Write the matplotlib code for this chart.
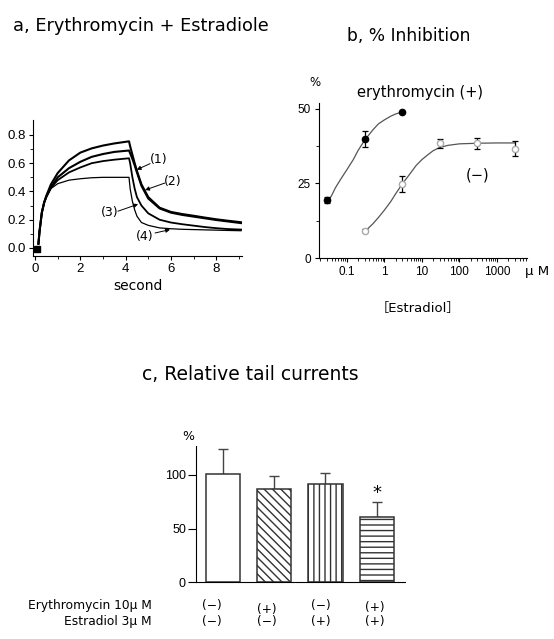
import matplotlib
matplotlib.use('Agg')
import matplotlib.pyplot as plt
from matplotlib.ticker import FixedLocator, FixedFormatter, NullFormatter, LogLocator

plt.rcParams['font.family'] = ['Liberation Sans', 'DejaVu Sans']
plt.rcParams['hatch.linewidth'] = 1.0
TXT = ['DejaVu Sans', 'Noto Sans CJK JP']

W, H = 554, 639

# ---------------- Panel a data: current traces ----------------
rise_t = [0.15, 0.20, 0.30, 0.40, 0.50, 0.70, 1.0, 1.5, 2.0, 2.5, 3.0, 3.5, 4.15]
rise_1 = [0.03, 0.12, 0.25, 0.32, 0.37, 0.45, 0.53, 0.62, 0.675, 0.705, 0.725, 0.74, 0.755]
rise_2 = [0.03, 0.12, 0.25, 0.32, 0.365, 0.43, 0.50, 0.565, 0.61, 0.645, 0.665, 0.68, 0.69]
rise_3 = [0.03, 0.12, 0.25, 0.32, 0.36, 0.425, 0.48, 0.535, 0.57, 0.60, 0.615, 0.625, 0.635]
rise_4 = [0.03, 0.12, 0.25, 0.32, 0.36, 0.42, 0.455, 0.48, 0.49, 0.497, 0.50, 0.50, 0.50]

tail_t = [4.15, 4.2, 4.3, 4.4, 4.5, 4.7, 5.0, 5.5, 6.0, 6.5, 7.0, 7.5, 8.0, 8.5, 9.1]
tail_1 = [0.755, 0.72, 0.66, 0.60, 0.545, 0.45, 0.36, 0.285, 0.255, 0.24, 0.228, 0.215, 0.203, 0.193, 0.182]
tail_2 = [0.69, 0.67, 0.63, 0.585, 0.535, 0.44, 0.35, 0.28, 0.25, 0.234, 0.222, 0.21, 0.198, 0.188, 0.176]
tail_3 = [0.635, 0.60, 0.50, 0.42, 0.36, 0.30, 0.245, 0.20, 0.18, 0.168, 0.158, 0.148, 0.14, 0.134, 0.13]
tail_4 = [0.50, 0.42, 0.33, 0.27, 0.225, 0.18, 0.16, 0.142, 0.136, 0.132, 0.13, 0.128, 0.126, 0.124, 0.122]
start_t, start_v = 0.08, -0.01

trace_labels = ['(1)', '(2)', '(3)', '(4)']

# ---------------- Panel b data: % inhibition ----------------
conc_plus = [0.03, 0.3, 3]
inh_plus = [19.5, 40.0, 49.0]
err_plus = [1.0, 2.7, 0.0]
conc_minus = [0.3, 3, 30, 300, 3000]
inh_minus = [9.2, 24.8, 38.5, 38.5, 36.6]
err_minus = [0.6, 2.7, 1.5, 1.9, 2.5]
fit_plus_x = [0.03, 0.04, 0.05, 0.07, 0.1, 0.15, 0.2, 0.3, 0.5, 0.7, 1, 1.5, 2, 3]
fit_plus_y = [18.5, 21.0, 23.5, 26.5, 29.5, 33.0, 36.0, 39.5, 43.0, 45.0, 46.3, 47.6, 48.3, 49.0]
fit_minus_x = [0.3, 0.5, 0.7, 1, 1.5, 2, 3, 5, 7, 10, 15, 20, 30, 50, 100, 300, 1000, 3000]
fit_minus_y = [8.8, 11.5, 13.6, 16.0, 19.0, 21.5, 24.8, 28.5, 31.0, 33.0, 34.8, 36.0, 37.1, 37.8, 38.3, 38.5, 38.6, 38.6]
b_xticks = [0.1, 1, 10, 100, 1000]
b_xticklabels = ['0.1', '1', '10', '100', '1000']

# ---------------- Panel c data: relative tail currents ----------------
groups = ['g1', 'g2', 'g3', 'g4']
rel_tail = [101, 87, 92, 61]
rel_err = [23, 12.5, 9.5, 13.5]
hatches = ['', '\\\\\\\\', '|||', '---']
erythro = ['(−)', '(+)', '(−)', '(+)']
estradiol = ['(−)', '(−)', '(+)', '(+)']

fig = plt.figure(figsize=(W / 100, H / 100), dpi=100)


def box(l, t, r, b):
    return [l / W, 1 - b / H, (r - l) / W, (b - t) / H]


def ftext(x, y, s, **kw):
    kw.setdefault('family', TXT)
    fig.text(x / W, 1 - y / H, s, **kw)


# ======== Panel a ========
ax = fig.add_axes(box(33, 120, 242, 256))
for r, tl, lw in [(rise_1, tail_1, 1.5), (rise_2, tail_2, 1.5), (rise_3, tail_3, 1.3), (rise_4, tail_4, 0.9)]:
    ax.plot(rise_t + tail_t, r + tl, color='black', lw=lw, solid_joinstyle='round')
ax.plot([start_t], [start_v], marker='s', color='black', ms=4)
ax.set_xlim(-0.09, 9.14)
ax.set_ylim(-0.057, 0.906)
for s in ['top', 'right']:
    ax.spines[s].set_visible(False)
ax.set_xticks([0, 2, 4, 6, 8])
ax.set_xticks([1, 3, 5, 7, 9], minor=True)
ax.set_yticks([0, 0.2, 0.4, 0.6, 0.8])
ax.set_yticklabels(['0.0', '0.2', '0.4', '0.6', '0.8'])
ax.set_yticks([0.1, 0.3, 0.5, 0.7], minor=True)
ax.tick_params(labelsize=9.5, length=3, pad=2)
ax.tick_params(which='minor', length=2)
ax.set_xlabel('second', fontsize=10, labelpad=3, family=TXT)

ann = [((5.44, 0.625), (5.08, 0.597), (4.49, 0.554)),
       ((6.08, 0.467), (5.74, 0.46), (4.86, 0.41)),
       ((3.31, 0.25), (3.66, 0.26), (4.55, 0.31)),
       ((4.86, 0.078), (5.30, 0.106), (5.96, 0.13))]
for lab, (tp, tail, head) in zip(trace_labels, ann):
    ax.text(tp[0], tp[1], lab, fontsize=9, ha='center', va='center', family=TXT)
    ax.annotate('', xy=head, xytext=tail,
                arrowprops=dict(arrowstyle='-|>', lw=0.7, color='black', mutation_scale=6,
                                shrinkA=0, shrinkB=0))

ftext(13, 26, 'a, Erythromycin + Estradiole', fontsize=12.8, va='center', ha='left')

# ======== Panel b ========
bx = fig.add_axes(box(319, 103, 527, 258))
bx.set_xscale('log')
bx.plot(fit_plus_x, fit_plus_y, color='#555555', lw=0.9)
bx.plot(fit_minus_x, fit_minus_y, color='#555555', lw=0.9)
bx.errorbar(conc_plus, inh_plus, yerr=err_plus, fmt='o', color='black', mfc='black',
            ms=4.5, capsize=2.5, elinewidth=0.9, capthick=0.9)
bx.errorbar(conc_minus, inh_minus, yerr=err_minus, fmt='o', color='black', mfc='white',
            mec='#aaaaaa', ms=4.5, capsize=2.5, elinewidth=0.9, capthick=0.9, ecolor='black')
bx.set_xlim(0.0184, 6250)
bx.set_ylim(0, 52)
for s in ['top', 'right']:
    bx.spines[s].set_visible(False)
bx.xaxis.set_major_locator(FixedLocator(b_xticks))
bx.xaxis.set_major_formatter(FixedFormatter(b_xticklabels))
bx.xaxis.set_minor_locator(LogLocator(base=10, subs=range(2, 10), numticks=20))
bx.xaxis.set_minor_formatter(NullFormatter())
bx.set_yticks([0, 25, 50])
bx.set_yticks([12.5, 37.5], minor=True)
bx.tick_params(labelsize=8.5, length=3, pad=3)
bx.tick_params(which='minor', length=2)
ftext(315, 82, '%', fontsize=8.5, ha='center', va='center')
ftext(420, 93, 'erythromycin (+)', fontsize=10.5, ha='center', va='center')
ftext(478, 175, '(−)', fontsize=10.5, ha='center', va='center')
ftext(537, 271, 'μ M', fontsize=9.5, ha='center', va='center')
ftext(418, 308, '［Estradiol］', fontsize=9.5, ha='center', va='center')
ftext(347, 36, 'b, % Inhibition', fontsize=12.3, va='center', ha='left')

# ======== Panel c ========
cx = fig.add_axes(box(195.7, 446, 405, 582.3))
pos = list(range(len(groups)))
cx.bar(pos, rel_tail, width=0.67, color='white', edgecolor='#333333', lw=1.1, hatch=hatches, zorder=2)
cx.errorbar(pos, rel_tail, yerr=[[0] * 4, rel_err], fmt='none', ecolor='#444444',
            elinewidth=1.0, capsize=3.5, capthick=1.0, zorder=1)
cx.text(3, 83, '*', fontsize=13, ha='center', va='center', family=TXT)
cx.set_xlim(-0.528, 3.55)
cx.set_ylim(0, 127)
for s in ['top', 'right']:
    cx.spines[s].set_visible(False)
cx.set_xticks([])
cx.set_yticks([0, 50, 100])
cx.tick_params(labelsize=9, length=6, pad=1)
ftext(188, 436, '%', fontsize=9, ha='center', va='center')
ftext(142, 375, 'c, Relative tail currents', fontsize=13.5, va='center', ha='left')

ftext(152, 606, 'Erythromycin 10μ M', fontsize=8.8, ha='right', va='center')
ftext(152, 621, 'Estradiol 3μ M', fontsize=8.8, ha='right', va='center')
col_x = [212, 267, 321, 375]
row1_y = [606, 609, 606, 607]
for cxp, ry, e1, e2 in zip(col_x, row1_y, erythro, estradiol):
    ftext(cxp, ry, e1, fontsize=8.8, ha='center', va='center')
    ftext(cxp, 622, e2, fontsize=8.8, ha='center', va='center')

fig.savefig('out.png', dpi=100)
